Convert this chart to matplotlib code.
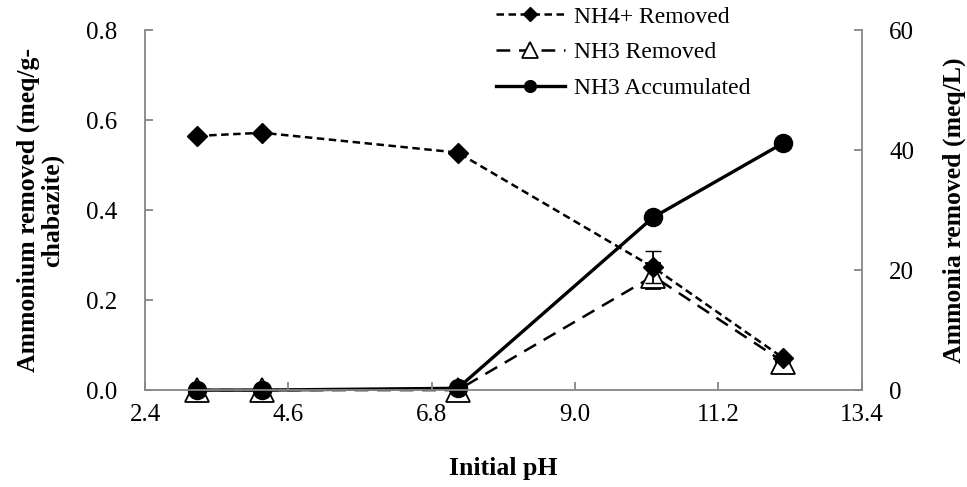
import matplotlib
matplotlib.use("Agg")
import matplotlib.pyplot as plt

plt.rcParams["font.family"] = ["Liberation Serif", "DejaVu Serif"]

# initial pH of each run
ph = [3.2, 4.2, 7.2, 10.2, 12.2]

# ammonium removed by chabazite (meq/g)
nh4_removed = [0.565, 0.572, 0.528, 0.273, 0.071]
nh4_err = [0, 0, 0, 0.036, 0]

# ammonia removed / accumulated in solution (meq/L)
nh3_removed = [0, 0, 0, 19.0, 4.7]
nh3_err = [0, 0, 0, 2.2, 0]
nh3_accum = [0, 0, 0.3, 28.8, 41.2]

xticks = [2.4, 4.6, 6.8, 9.0, 11.2, 13.4]
left_ticks = [0.0, 0.2, 0.4, 0.6, 0.8]
right_ticks = [0, 20, 40, 60]

grey = "#868686"

fig = plt.figure(figsize=(9.67, 4.87), dpi=100)
ax = fig.add_axes([0.150, 0.199, 0.741, 0.739])
ax2 = ax.twinx()

# primary axis drawn on top so the diamonds sit over the triangles
ax.set_zorder(ax2.get_zorder() + 1)
ax.patch.set_visible(False)

l2 = ax2.errorbar(ph, nh3_removed, yerr=nh3_err, color="black", lw=1.8,
                  dashes=(5.5, 3.5), marker="^", ms=17, mfc="white", mec="black",
                  mew=1.3, capsize=6, elinewidth=1.3, clip_on=False, zorder=2)
l3, = ax2.plot(ph, nh3_accum, color="black", lw=2.4, marker="o", ms=13,
               clip_on=False, zorder=4)
l1 = ax.errorbar(ph, nh4_removed, yerr=nh4_err, color="black", lw=1.8,
                 dashes=(3, 1.8), marker="D", ms=10.5, capsize=6,
                 elinewidth=1.3, clip_on=False)

ax.set_xlim(2.4, 13.4)
ax.set_ylim(0, 0.8)
ax2.set_ylim(0, 60)
ax.set_xticks(xticks)
ax.set_xticklabels([f"{t:.1f}" for t in xticks])
ax.set_yticks(left_ticks)
ax.set_yticklabels([f"{t:.1f}" for t in left_ticks])
ax2.set_yticks(right_ticks)

for a in (ax, ax2):
    a.spines["top"].set_visible(False)
    for s in ("left", "right", "bottom"):
        a.spines[s].set_color(grey)
        a.spines[s].set_linewidth(1.3)
    a.tick_params(direction="in", color=grey, length=6, width=1.3,
                  labelsize=18, pad=10)
ax.tick_params(axis="y", pad=20)
ax2.tick_params(axis="y", pad=20)
ax.spines["right"].set_visible(False)
ax2.spines["left"].set_visible(False)
ax2.spines["bottom"].set_visible(False)

ax.set_xlabel("Initial pH", fontsize=18.5, fontweight="bold", labelpad=22)
ax.set_ylabel("Ammonium removed (meq/g-\nchabazite)", fontsize=18.5,
              fontweight="bold", labelpad=16, linespacing=1.0)
ax2.set_ylabel("Ammonia removed (meq/L)", fontsize=18.5, fontweight="bold",
               labelpad=20)

leg = ax.legend([l1.lines[0], l2.lines[0], l3],
                ["NH4+ Removed", "NH3 Removed", "NH3 Accumulated"],
                loc="upper left", bbox_to_anchor=(495 / 967, 0.99),
                bbox_transform=fig.transFigure, frameon=False, fontsize=17,
                handlelength=2.9, handletextpad=0.4, labelspacing=0.6,
                borderpad=0.05, borderaxespad=0, markerscale=0.65)

fig.savefig("out.png", dpi=100)
